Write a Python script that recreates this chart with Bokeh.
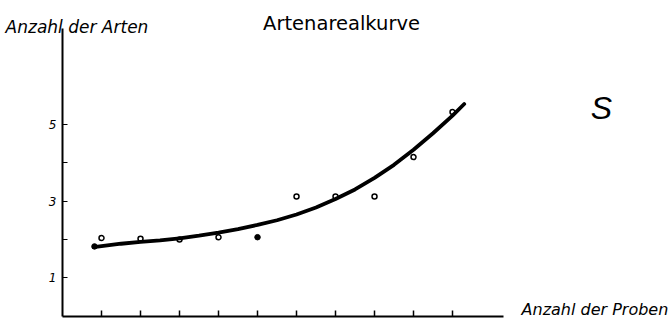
from bokeh.plotting import figure
from bokeh.models import Range1d, FixedTicker, Label
from bokeh.core.properties import value
from bokeh.embed import file_html
from bokeh.resources import INLINE

# ---- data ----
title_text = "Artenarealkurve"
y_title = "Anzahl der Arten"
x_title = "Anzahl der Proben"
panel_letter = "S"

open_x = [1, 2, 3, 4, 6, 7, 8, 9, 10]
open_y = [2.04, 2.02, 2.0, 2.06, 3.12, 3.12, 3.12, 4.14, 5.31]

filled_x = [0.82, 5.0]
filled_y = [1.82, 2.06]

curve_x = [0.8, 1.5, 2.0, 2.5, 3.0, 3.5, 4.0, 4.5, 5.0, 5.5, 6.0, 6.5, 7.0,
           7.5, 8.0, 8.5, 9.0, 9.5, 10.0, 10.3]
curve_y = [1.80, 1.89, 1.94, 1.98, 2.03, 2.10, 2.18, 2.27, 2.38, 2.50, 2.65,
           2.83, 3.05, 3.30, 3.60, 3.94, 4.33, 4.76, 5.22, 5.52]

x_ticks = [1, 2, 3, 4, 5, 6, 7, 8, 9, 10]
y_ticks = [1, 2, 3, 4, 5]
y_label_values = [1, 3, 5]
y_label_texts = ["1", "3", "5"]

# ---- figure: frame covers the whole canvas, axes fixed at the origin ----
p = figure(width=671, height=318, output_backend="svg", toolbar_location=None,
           x_range=Range1d(-1.590, 15.615), y_range=Range1d(-0.052, 8.208),
           min_border=0)
p.outline_line_color = None
p.grid.visible = False
p.background_fill_color = "white"
p.border_fill_color = "white"

# x axis: unlabeled ticks (drawn as minor ticks so no label texts exist)
xa = p.xaxis[0]
xa.fixed_location = 0
xa.ticker = FixedTicker(ticks=[], minor_ticks=x_ticks)
xa.bounds = (0, 11.31)
xa.axis_line_width = 2
xa.axis_line_color = "black"
xa.major_tick_in = 0
xa.major_tick_out = 0
xa.minor_tick_in = 6
xa.minor_tick_out = 0
xa.minor_tick_line_width = 1.5
xa.minor_tick_line_color = "black"
xa.major_label_standoff = 0

# y axis: ticks at every integer, labels 1/3/5 drawn as text
ya = p.yaxis[0]
ya.fixed_location = 0
ya.ticker = FixedTicker(ticks=[], minor_ticks=y_ticks)
ya.bounds = (0, 7.48)
ya.axis_line_width = 2
ya.axis_line_color = "black"
ya.major_tick_in = 0
ya.major_tick_out = 0
ya.minor_tick_in = 5
ya.minor_tick_out = 0
ya.minor_tick_line_width = 1
ya.minor_tick_line_color = "black"
ya.major_label_standoff = 0

p.text(x=[-0.154] * len(y_label_values), y=y_label_values, text=y_label_texts,
       text_font=value("DejaVu Sans"), text_font_style="italic",
       text_font_size="12px", text_color="black",
       text_align="right", text_baseline="middle")

# curve and points
p.line(curve_x, curve_y, line_color="black", line_width=3.8, line_cap="round")
p.scatter(open_x, open_y, marker="circle", size=5, fill_alpha=0,
          line_color="black", line_width=1.5)
p.scatter(filled_x, filled_y, marker="circle", size=5.5, fill_color="black",
          line_color="black")

# texts
p.add_layout(Label(x=7.154, y=7.61, text=title_text, text_font="DejaVu Sans",
                   text_font_size="19.5px", text_color="black",
                   text_align="center", text_baseline="alphabetic"))
p.add_layout(Label(x=-1.46, y=7.514, text=y_title, text_font="DejaVu Sans",
                   text_font_size="17px", text_font_style="italic",
                   text_color="black", text_align="left",
                   text_baseline="alphabetic"))
p.add_layout(Label(x=11.77, y=0.17, text=x_title, text_font="DejaVu Sans",
                   text_font_size="16px", text_font_style="italic",
                   text_color="black", text_align="left",
                   text_baseline="alphabetic"))
p.add_layout(Label(x=13.82, y=5.41, text=panel_letter,
                   text_font="Liberation Sans", text_font_size="32px",
                   text_font_style="italic", text_color="black",
                   text_align="center", text_baseline="alphabetic"))

open("out.html", "w").write(file_html(p, INLINE))
